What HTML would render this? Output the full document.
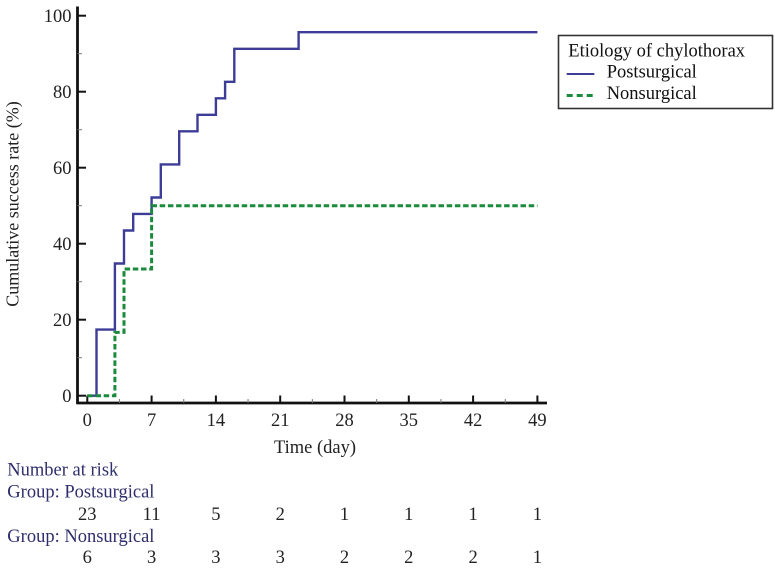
<!DOCTYPE html>
<html>
<head>
<meta charset="utf-8">
<style>
  html, body { margin:0; padding:0; background:#fff; }
  body { width:775px; height:570px; overflow:hidden; }
  svg { display:block; }
  text { font-family: "Liberation Serif", "Times New Roman", serif; font-size:18.5px; }
</style>
</head>
<body>
<svg width="775" height="570" viewBox="0 0 775 570" xmlns="http://www.w3.org/2000/svg">
  <rect x="0" y="0" width="775" height="570" fill="#fff"/>

  <!-- axes -->
  <line x1="77.5" y1="6.5" x2="77.5" y2="404" stroke="#111" stroke-width="2.8"/>
  <line x1="76.5" y1="403" x2="547" y2="403" stroke="#111" stroke-width="2.8"/>

  <!-- y major ticks -->
  <g stroke="#111" stroke-width="2">
    <line x1="77.5" y1="395.7" x2="86" y2="395.7"/>
    <line x1="77.5" y1="319.7" x2="86" y2="319.7"/>
    <line x1="77.5" y1="243.7" x2="86" y2="243.7"/>
    <line x1="77.5" y1="167.7" x2="86" y2="167.7"/>
    <line x1="77.5" y1="91.7" x2="86" y2="91.7"/>
    <line x1="77.5" y1="15.7" x2="86" y2="15.7"/>
  </g>
  <!-- y minor ticks -->
  <g stroke="#777" stroke-width="1">
    <line x1="77.5" y1="357.7" x2="82" y2="357.7"/>
    <line x1="77.5" y1="281.7" x2="82" y2="281.7"/>
    <line x1="77.5" y1="205.7" x2="82" y2="205.7"/>
    <line x1="77.5" y1="129.7" x2="82" y2="129.7"/>
    <line x1="77.5" y1="53.7" x2="82" y2="53.7"/>
  </g>
  <!-- x major ticks -->
  <g stroke="#111" stroke-width="2">
    <line x1="87.3" y1="403" x2="87.3" y2="395.5"/>
    <line x1="151.6" y1="403" x2="151.6" y2="395.5"/>
    <line x1="215.9" y1="403" x2="215.9" y2="395.5"/>
    <line x1="280.2" y1="403" x2="280.2" y2="395.5"/>
    <line x1="344.5" y1="403" x2="344.5" y2="395.5"/>
    <line x1="408.8" y1="403" x2="408.8" y2="395.5"/>
    <line x1="473.1" y1="403" x2="473.1" y2="395.5"/>
    <line x1="537.4" y1="403" x2="537.4" y2="395.5"/>
  </g>
  <!-- x minor ticks -->
  <g stroke="#777" stroke-width="1">
    <line x1="119.45" y1="403" x2="119.45" y2="399"/>
    <line x1="183.75" y1="403" x2="183.75" y2="399"/>
    <line x1="248.05" y1="403" x2="248.05" y2="399"/>
    <line x1="312.35" y1="403" x2="312.35" y2="399"/>
    <line x1="376.65" y1="403" x2="376.65" y2="399"/>
    <line x1="440.95" y1="403" x2="440.95" y2="399"/>
    <line x1="505.25" y1="403" x2="505.25" y2="399"/>
  </g>

  <!-- y tick labels -->
  <g fill="#222" text-anchor="end">
    <text x="71.5" y="402">0</text>
    <text x="71.5" y="326">20</text>
    <text x="71.5" y="250">40</text>
    <text x="71.5" y="174">60</text>
    <text x="71.5" y="98">80</text>
    <text x="71.5" y="22">100</text>
  </g>
  <!-- x tick labels -->
  <g fill="#222" text-anchor="middle">
    <text x="87.3" y="426">0</text>
    <text x="151.6" y="426">7</text>
    <text x="215.9" y="426">14</text>
    <text x="280.2" y="426">21</text>
    <text x="344.5" y="426">28</text>
    <text x="408.8" y="426">35</text>
    <text x="473.1" y="426">42</text>
    <text x="537.4" y="426">49</text>
  </g>

  <!-- axis titles -->
  <text x="315" y="453" fill="#222" text-anchor="middle">Time (day)</text>
  <text transform="translate(18.5,204) rotate(-90)" fill="#222" text-anchor="middle" style="font-size:18px">Cumulative success rate (%)</text>

  <!-- curves -->
  <path d="M87.3,395.7 H96.5 V329.6 H114.9 V263.5 H124.0 V230.5 H133.2 V213.9 H151.6 V197.5 H160.8 V164.4 H179.2 V131.3 H197.5 V114.8 H215.9 V98.3 H225.1 V81.8 H234.3 V48.8 H298.6 V32.2 H537.4"
        fill="none" stroke="#3d3d98" stroke-width="2.4"/>
  <path d="M87.3,395.7 H114.9 V332.4 H124.0 V269.0 H151.6 V205.7 H537.4"
        fill="none" stroke="#1b8a3c" stroke-width="3" stroke-dasharray="5.5,2.7"/>

  <!-- legend -->
  <rect x="558.5" y="35.5" width="214" height="73" fill="#fff" stroke="#333" stroke-width="1.6"/>
  <text x="568.3" y="56.7" fill="#111">Etiology of chylothorax</text>
  <line x1="566.7" y1="74" x2="594.3" y2="74" stroke="#3d3d98" stroke-width="2"/>
  <text x="606.7" y="77.7" fill="#111">Postsurgical</text>
  <line x1="566.7" y1="95.5" x2="595" y2="95.5" stroke="#1b8a3c" stroke-width="3" stroke-dasharray="6,4"/>
  <text x="606.7" y="99" fill="#111">Nonsurgical</text>

  <!-- number at risk -->
  <g fill="#2e2e6c">
    <text x="7.3" y="475.7">Number at risk</text>
    <text x="7.3" y="497.7">Group: Postsurgical</text>
    <text x="7.3" y="542">Group: Nonsurgical</text>
  </g>
  <g fill="#222" text-anchor="middle">
    <text x="87.3" y="520">23</text>
    <text x="151.6" y="520">11</text>
    <text x="215.9" y="520">5</text>
    <text x="280.2" y="520">2</text>
    <text x="344.5" y="520">1</text>
    <text x="408.8" y="520">1</text>
    <text x="473.1" y="520">1</text>
    <text x="537.4" y="520">1</text>

    <text x="87.3" y="563">6</text>
    <text x="151.6" y="563">3</text>
    <text x="215.9" y="563">3</text>
    <text x="280.2" y="563">3</text>
    <text x="344.5" y="563">2</text>
    <text x="408.8" y="563">2</text>
    <text x="473.1" y="563">2</text>
    <text x="537.4" y="563">1</text>
  </g>
</svg>
</body>
</html>
